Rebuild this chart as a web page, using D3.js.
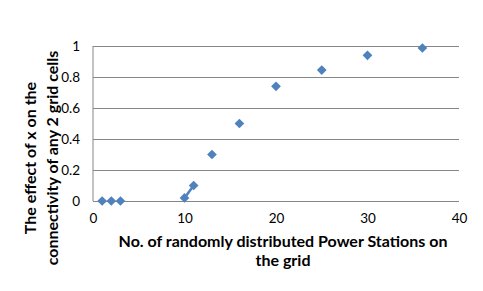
<!DOCTYPE html>
<html>
<head>
<meta charset="utf-8">
<script src="https://cdn.jsdelivr.net/npm/d3@7"></script>
<style>
  body { margin: 0; background: #fff; }
  text { font-family: Lato, "Open Sans", sans-serif; fill: #000; }
</style>
</head>
<body>
<div id="viz"></div>
<script>
var stations = [1, 2, 3, 10, 11, 13, 16, 20, 25, 30, 36];
var effect = [0, 0, 0, 0.02, 0.1, 0.3, 0.5, 0.74, 0.845, 0.94, 0.987];
var xTicks = [0, 10, 20, 30, 40];
var yTicks = [0, 0.2, 0.4, 0.6, 0.8, 1];
// only these two points are joined by a line in the original
var joined = [3, 4];

var width = 483, height = 291,
    margin = {top: 46, right: 24, bottom: 90, left: 93};

var svg = d3.select('#viz').append('svg')
  .attr('width', width).attr('height', height);

var g = svg.append('g')
  .attr('transform', `translate(${margin.left},${margin.top})`);

var w = width - margin.left - margin.right,
    h = height - margin.top - margin.bottom;

var x = d3.scaleLinear().domain([0, 40]).range([0, w]);
var y = d3.scaleLinear().domain([0, 1]).range([h, 0]);

var yAxis = d3.axisLeft(y).tickValues(yTicks).tickSize(-w).tickPadding(13)
  .tickFormat(d => d === 0 || d === 1 ? d : d3.format('.1f')(d));
var xAxis = d3.axisBottom(x).tickValues(xTicks).tickSize(0).tickPadding(12);

g.append('g').attr('class', 'y axis').call(yAxis)
  .call(s => s.select('.domain').remove())
  .call(s => s.selectAll('line').attr('stroke', '#868686'))
  .call(s => s.selectAll('text').style('font-size', '13.5px'));

g.append('line').attr('x1', 0).attr('x2', 0).attr('y1', 0).attr('y2', h)
  .attr('stroke', '#868686');

g.append('g').attr('class', 'x axis')
  .attr('transform', `translate(0,${h})`).call(xAxis)
  .call(s => s.select('.domain').remove())
  .call(s => s.selectAll('text').style('font-size', '13.5px'));

var pts = stations.map((d, i) => ({x: d, y: effect[i]}));

g.append('path')
  .datum(joined.map(i => pts[i]))
  .attr('fill', 'none').attr('stroke', '#4F81BD').attr('stroke-width', 2.5)
  .attr('d', d3.line().x(d => x(d.x)).y(d => y(d.y)));

g.selectAll('.pt').data(pts).enter().append('path')
  .attr('class', 'pt')
  .attr('d', d3.symbol(d3.symbolDiamond2, 60))
  .attr('transform', d => `translate(${x(d.x)},${y(d.y)})`)
  .attr('fill', '#4F81BD');

// axis titles
var xt = svg.append('text').attr('text-anchor', 'middle')
  .style('font-size', '16px').style('font-weight', 'bold');
xt.append('tspan').attr('x', 283).attr('y', 247)
  .text('No. of randomly distributed Power Stations on');
xt.append('tspan').attr('x', 283).attr('y', 266).text('the grid');

var yt = svg.append('text').attr('text-anchor', 'middle')
  .attr('transform', 'translate(0,158) rotate(-90)')
  .style('font-size', '16px').style('font-weight', 'bold');
yt.append('tspan').attr('x', 0).attr('y', 36).text('The effect of x on the');
yt.append('tspan').attr('x', 0).attr('y', 58).text('connectivity of any 2 grid cells');
</script>
</body>
</html>
